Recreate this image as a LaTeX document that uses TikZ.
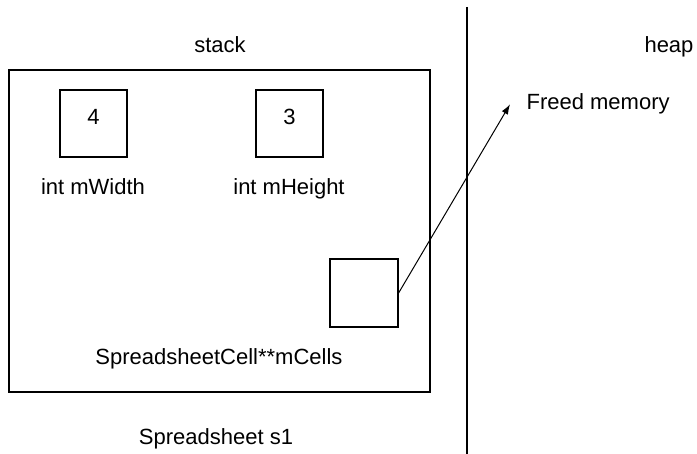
\documentclass[tikz,border=0pt]{standalone}
\usepackage{fontspec}
\setmainfont{Liberation Sans}
\usetikzlibrary{arrows.meta}

\tikzset{
  label/.style={inner sep=0pt, anchor=base, font=\fontsize{22}{26}\selectfont},
  cellbox/.style={draw, line width=1.2pt, minimum size=67pt, inner sep=0pt},
}

\begin{document}
\begin{tikzpicture}[x=1pt, y=-1pt, line width=1.2pt]

\useasboundingbox (0,0) rectangle (697,454);

% Define coordinates for reference points
\coordinate (divtop) at (467,7);     % top of the dividing line
\coordinate (divbot) at (467,454);   % bottom of the dividing line
\coordinate (frameA) at (9,70);      % stack frame corners
\coordinate (frameB) at (430,392);

% Draw the stack frame and the divider
\draw (frameA) rectangle (frameB);
\draw (divtop) -- (divbot);

% Headings
\node[label] (stack) at (220,53) {stack};
\node[label] (heap) at (669,53) {heap};

% Member boxes
\node[cellbox] (width) at (93.5,123.5) {};
\node[label] (wval) at (93.5,125) {4};
\node[label] (wname) at (93,195) {int mWidth};

\node[cellbox] (height) at (289.5,123.5) {};
\node[label] (hval) at (289.5,125) {3};
\node[label] (hname) at (289,195) {int mHeight};

\node[cellbox, minimum size=68pt] (cells) at (364,293) {};
\node[label] (cname) at (219,365) {SpreadsheetCell**mCells};

% Object name
\node[label] (sheet) at (216,445) {Spreadsheet s1};

% Freed memory on the heap
\node[label, anchor=base west] (freed) at (526,110) {Freed memory};
\coordinate (tip) at ([xshift=-16pt]freed.west);
\draw[-{Latex[length=10pt,width=7pt]}, line width=1pt]
  (cells.east) -- (tip);

\end{tikzpicture}
\end{document}
